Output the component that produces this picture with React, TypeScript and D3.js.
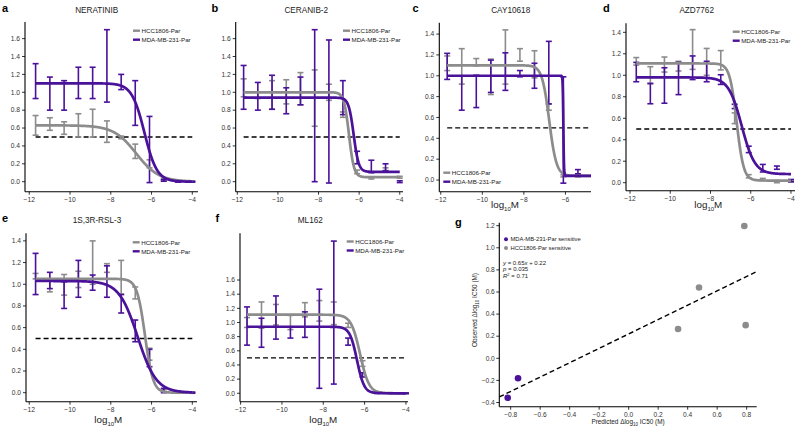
import React from "react";
import * as d3 from "d3";

// log10 molar doses (1:5 dilution series)
const doses = [-11.69, -10.99, -10.29, -9.59, -8.89, -8.19, -7.49, -6.8, -6.1, -5.4, -4.7, -4.0];
const series = ["HCC1806-Par", "MDA-MB-231-Par"];

// a: NERATINIB
const neraHccMean = [0.63, 0.645, 0.6, 0.63, 0.655, 0.56, 0.495, 0.34, 0.2, 0.02, 0.01, 0.0];
const neraHccSd = [0.11, 0.07, 0.07, 0.13, 0.155, 0.12, 0.015, 0.08, 0.045, 0.01, 0.005, 0.005];
const neraMdaMean = [1.125, 0.985, 0.965, 1.105, 1.105, 1.295, 1.115, 0.88, 0.36, 0.015, 0.0, 0.0];
const neraMdaSd = [0.195, 0.185, 0.165, 0.175, 0.175, 0.405, 0.085, 0.25, 0.37, 0.01, 0.005, 0.005];
// fit: top, bottom, logIC50, hill
const neraHccFit = [0.63, 0.0, -6.75, 0.78];
const neraMdaFit = [1.1, 0.0, -6.35, 1.4];

// b: CERANIB-2
const ceraHccMean = [1.05, 0.965, 0.97, 1.005, 1.04, 0.935, 1.0, 0.75, 0.11, 0.04, 0.14, 0.05];
const ceraHccSd = [0.1, 0.035, 0.16, 0.135, 0.18, 0.315, 0.09, 0.03, 0.02, 0.01, 0.015, 0.01];
const ceraMdaMean = [1.055, 0.955, 1.0, 0.905, 1.015, 0.85, 0.785, 0.94, 0.27, 0.17, 0.16, 0.0];
const ceraMdaSd = [0.245, 0.155, 0.19, 0.145, 0.155, 0.85, 0.8, 0.19, 0.07, 0.07, 0.04, 0.01];
const ceraHccFit = [1.0, 0.05, -6.5, 3.5];
const ceraMdaFit = [0.94, 0.11, -6.27, 3.5];

// c: CAY10618 (no data above -5.4)
const cayHccMean = [1.12, 1.09, 1.13, 0.99, 1.18, 1.2, 1.11, 0.7, 0.04, 0.04];
const cayHccSd = [0.07, 0.17, 0.035, 0.17, 0.26, 0.06, 0.13, 0.03, 0.01, 0.01];
const cayMdaMean = [1.09, 0.835, 0.85, 0.995, 1.04, 1.02, 1.0, 1.03, 0.48, 0.08];
const cayMdaSd = [0.125, 0.165, 0.155, 0.155, 0.18, 0.03, 0.12, 0.3, 0.51, 0.02];
const cayHccFit = [1.1, 0.04, -6.78, 2.5];
const cayMdaFit = [1.0, 0.04, -6.1, 30];

// d: AZD7762
const azdHccMean = [1.13, 1.0, 1.1, 1.085, 1.24, 1.125, 1.14, 0.6, 0.06, 0.03, 0.01, 0.01];
const azdHccSd = [0.035, 0.08, 0.07, 0.045, 0.185, 0.125, 0.09, 0.05, 0.015, 0.01, 0.01, 0.005];
const azdMdaMean = [1.03, 0.83, 0.905, 0.97, 1.07, 1.035, 0.96, 0.71, 0.31, 0.135, 0.14, 0.02];
const azdMdaSd = [0.09, 0.095, 0.165, 0.15, 0.11, 0.095, 0.045, 0.02, 0.03, 0.035, 0.015, 0.01];
const azdHccFit = [1.11, 0.02, -6.7, 2.5];
const azdMdaFit = [0.98, 0.08, -6.45, 1.33];

// e: 1S,3R-RSL-3
const rslHccMean = [1.075, 0.99, 0.995, 1.045, 1.2, 1.15, 1.065, 0.92, 0.355, 0.02, 0.01, 0.0];
const rslHccSd = [0.025, 0.06, 0.095, 0.075, 0.2, 0.04, 0.155, 0.055, 0.055, 0.01, 0.005, 0.005];
const rslMdaMean = [1.095, 1.035, 0.9, 1.05, 1.015, 1.025, 0.82, 0.57, 0.32, 0.02, 0.0, 0.0];
const rslMdaSd = [0.19, 0.075, 0.123, 0.17, 0.07, 0.145, 0.085, 0.1, 0.08, 0.02, 0.005, 0.005];
const rslHccFit = [1.05, 0.0, -6.32, 2.2];
const rslMdaFit = [1.03, 0.0, -6.68, 0.95];

// f: ML162
const mlHccMean = [1.0, 1.105, 1.11, 1.0, 1.18, 1.165, 1.13, 0.96, 0.42, 0.01, 0.0, 0.0];
const mlHccSd = [0.07, 0.185, 0.145, 0.1, 0.1, 0.145, 0.16, 0.03, 0.04, 0.01, 0.005, 0.005];
const mlMdaMean = [0.95, 0.855, 1.07, 0.86, 0.97, 0.77, 1.14, 0.73, 0.26, 0.01, 0.0, 0.0];
const mlMdaSd = [0.27, 0.205, 0.305, 0.08, 0.18, 0.7, 1.01, 0.05, 0.03, 0.01, 0.005, 0.005];
const mlHccFit = [1.11, 0.0, -6.22, 2.0];
const mlMdaFit = [0.94, 0.0, -6.37, 2.5];

// g: predicted vs observed delta log10 IC50
const gPredicted = [-0.82, -0.75, 0.335, 0.477, 0.784, 0.793];
const gObserved = [-0.357, -0.18, 0.265, 0.64, 1.197, 0.3];
const gGroup = [1, 1, 0, 0, 0, 0];
const gLegend = ["MDA-MB-231-Par sensitive", "HCC1806-Par sensitive"];
const regSlope = 0.65;
const regIntercept = 0.22;

const GRAY = "#8c8c8c";
const PURPLE = "#4a1199";
const FONT = "'Liberation Sans', Arial, Helvetica, sans-serif";

const logistic = (fit: number[]) => (x: number) =>
  fit[1] + (fit[0] - fit[1]) / (1 + Math.pow(10, (x - fit[2]) * fit[3]));

const panels = [
  {
    letter: "a", title: "NERATINIB", hcc: [neraHccMean, neraHccSd, neraHccFit], mda: [neraMdaMean, neraMdaSd, neraMdaFit],
    x0: 25, x1: 198, xd: [-12.21, -3.72], y0: 191.7, y1: 22, yd: [-0.112, 1.786],
    yTicks: [0, 0.2, 0.4, 0.6, 0.8, 1.0, 1.2, 1.4, 1.6], xTicks: [-12, -10, -8, -6, -4],
    titleX: 96.7, titleY: 13, letterX: 2, letterY: 12, legend: [133, 30.7], xlab: null as null | number[],
  },
  {
    letter: "b", title: "CERANIB-2", hcc: [ceraHccMean, ceraHccSd, ceraHccFit], mda: [ceraMdaMean, ceraMdaSd, ceraMdaFit],
    x0: 235.7, x1: 403, xd: [-12.08, -3.84], y0: 191.7, y1: 22, yd: [-0.112, 1.786],
    yTicks: [0, 0.2, 0.4, 0.6, 0.8, 1.0, 1.2, 1.4, 1.6], xTicks: [-12, -10, -8, -6, -4],
    titleX: 306.3, titleY: 13, letterX: 211.5, letterY: 12, legend: [343, 30.7], xlab: null,
  },
  {
    letter: "c", title: "CAY10618", hcc: [cayHccMean, cayHccSd, cayHccFit], mda: [cayMdaMean, cayMdaSd, cayMdaFit],
    x0: 439.3, x1: 591, xd: [-12.07, -4.77], y0: 191.7, y1: 22.7, yd: [-0.112, 1.509],
    yTicks: [0, 0.2, 0.4, 0.6, 0.8, 1.0, 1.2, 1.4], xTicks: [-12, -10, -8, -6],
    titleX: 510.7, titleY: 13, letterX: 412.5, letterY: 12, legend: [443.3, 172.7], xlab: [505, 208],
  },
  {
    letter: "d", title: "AZD7762", hcc: [azdHccMean, azdHccSd, azdHccFit], mda: [azdMdaMean, azdMdaSd, azdMdaFit],
    x0: 626, x1: 795, xd: [-12.2, -3.8], y0: 190.7, y1: 23.3, yd: [-0.0745, 1.484],
    yTicks: [0, 0.2, 0.4, 0.6, 0.8, 1.0, 1.2, 1.4], xTicks: [-12, -10, -8, -6, -4],
    titleX: 696.7, titleY: 13, letterX: 603, letterY: 12, legend: [732.7, 31.7], xlab: [708.3, 208],
  },
  {
    letter: "e", title: "1S,3R-RSL-3", hcc: [rslHccMean, rslHccSd, rslHccFit], mda: [rslMdaMean, rslMdaSd, rslMdaFit],
    x0: 26, x1: 197, xd: [-12.16, -3.77], y0: 401.7, y1: 233.3, yd: [-0.083, 1.47],
    yTicks: [0, 0.2, 0.4, 0.6, 0.8, 1.0, 1.2, 1.4], xTicks: [-12, -10, -8, -6, -4],
    titleX: 97, titleY: 223, letterX: 2, letterY: 222, legend: [132.7, 242.3], xlab: [108.3, 423],
  },
  {
    letter: "f", title: "ML162", hcc: [mlHccMean, mlHccSd, mlHccFit], mda: [mlMdaMean, mlMdaSd, mlMdaFit],
    x0: 240, x1: 408, xd: [-12.03, -3.9], y0: 401.7, y1: 233.3, yd: [-0.119, 2.26],
    yTicks: [0, 0.2, 0.4, 0.6, 0.8, 1.0, 1.2, 1.4, 1.6], xTicks: [-12, -10, -8, -6, -4],
    titleX: 310.3, titleY: 223, letterX: 215.5, letterY: 222, legend: [346.7, 241.5], xlab: [323.3, 423],
  },
];

const fmt1 = d3.format(".1f");
const fmtNeg = (v: number) => (v < 0 ? "\u2212" + fmt1(-v) : fmt1(v));
const fmtInt = (v: number) => (v < 0 ? "\u2212" + String(-v) : String(v));

const DosePanel = ({ p }: { p: (typeof panels)[number] }) => {
  const x = d3.scaleLinear().domain(p.xd).range([p.x0, p.x1]);
  const y = d3.scaleLinear().domain(p.yd).range([p.y0, p.y1]);
  const xEnd = Math.min(-4, p.xd[1]);
  const sets = [
    { data: p.hcc, color: GRAY },
    { data: p.mda, color: PURPLE },
  ];
  // sample points along the fitted curve
  const xs = d3.range(0, 601).map((i) => doses[0] + ((xEnd - doses[0]) * i) / 600);
  return (
    <g>
      <text x={p.letterX} y={p.letterY} fontSize={11} fontWeight="bold">{p.letter}</text>
      <text x={p.titleX} y={p.titleY} fontSize={8.2} textAnchor="middle" fill="#222">{p.title}</text>
      {/* axes */}
      <line x1={p.x0} x2={p.x0} y1={p.y1} y2={p.y0} stroke="#000" strokeWidth={1.1} />
      <line x1={p.x0} x2={p.x1} y1={p.y0} y2={p.y0} stroke="#000" strokeWidth={1.1} />
      {p.yTicks.map((t) => (
        <g key={"y" + t}>
          <line x1={p.x0 - 3} x2={p.x0} y1={y(t)} y2={y(t)} stroke="#000" strokeWidth={0.8} />
          <text x={p.x0 - 5} y={y(t) + 2.3} fontSize={6.7} textAnchor="end" fill="#333">{fmtNeg(t)}</text>
        </g>
      ))}
      {p.xTicks.map((t) => (
        <g key={"x" + t}>
          <line x1={x(t)} x2={x(t)} y1={p.y0} y2={p.y0 + 3} stroke="#000" strokeWidth={0.8} />
          <text x={x(t)} y={p.y0 + 9.8} fontSize={6.7} textAnchor="middle" fill="#333">{fmtInt(t)}</text>
        </g>
      ))}
      {/* 50% line */}
      <line x1={x(doses[0])} x2={x(xEnd)} y1={y(0.5)} y2={y(0.5)} stroke="#000" strokeWidth={1.4} strokeDasharray="5,3" />
      {/* error bars */}
      {sets.map((s, si) =>
        (s.data[0] as number[]).map((m, i) => {
          const sd = (s.data[1] as number[])[i];
          const cx = x(doses[i]);
          return (
            <g key={si + "-" + i} stroke={s.color} strokeWidth={1.6}>
              <line x1={cx} x2={cx} y1={y(m - sd)} y2={y(m + sd)} />
              <line x1={cx - 3} x2={cx + 3} y1={y(m - sd)} y2={y(m - sd)} />
              <line x1={cx - 3} x2={cx + 3} y1={y(m + sd)} y2={y(m + sd)} />
            </g>
          );
        })
      )}
      {/* fitted curves */}
      {sets.map((s, si) => {
        const f = logistic(s.data[2] as number[]);
        const path = d3.line<number>().x((d) => x(d)).y((d) => y(f(d)))(xs) || "";
        return <path key={"c" + si} d={path} fill="none" stroke={s.color} strokeWidth={2.7} />;
      })}
      {/* legend */}
      {series.map((name, i) => (
        <g key={name}>
          <line x1={p.legend[0]} x2={p.legend[0] + 7} y1={p.legend[1] + i * 9} y2={p.legend[1] + i * 9}
            stroke={i === 0 ? GRAY : PURPLE} strokeWidth={2.4} />
          <text x={p.legend[0] + 8.5} y={p.legend[1] + i * 9 + 2.2} fontSize={6.2} fill="#222">{name}</text>
        </g>
      ))}
      {p.xlab && (
        <text x={p.xlab[0]} y={p.xlab[1]} fontSize={9.8} textAnchor="middle" fill="#222">
          log<tspan fontSize={6} dy={2.5}>10</tspan><tspan dy={-2.5}>M</tspan>
        </text>
      )}
    </g>
  );
};

const ScatterPanel = () => {
  const x0 = 499.3, x1 = 756.7, yb = 406.7, yt = 222.7;
  const x = d3.scaleLinear().domain([-0.877, 0.868]).range([x0, x1]);
  const y = d3.scaleLinear().domain([-0.438, 1.227]).range([yb, yt]);
  const xTicks = [-0.8, -0.6, -0.4, -0.2, 0, 0.2, 0.4, 0.6, 0.8];
  const yTicks = [-0.4, -0.2, 0, 0.2, 0.4, 0.6, 0.8, 1.0, 1.2];
  const xd = x.domain();
  return (
    <g>
      <text x={455} y={226} fontSize={11} fontWeight="bold">g</text>
      <line x1={x0} x2={x0} y1={yt} y2={yb} stroke="#000" strokeWidth={1.1} />
      <line x1={x0} x2={x1} y1={yb} y2={yb} stroke="#000" strokeWidth={1.1} />
      {yTicks.map((t) => (
        <g key={"gy" + t}>
          <line x1={x0 - 3} x2={x0} y1={y(t)} y2={y(t)} stroke="#000" strokeWidth={0.8} />
          <text x={x0 - 4.5} y={y(t) + 2.3} fontSize={6.6} textAnchor="end" fill="#333">{fmtNeg(t)}</text>
        </g>
      ))}
      {xTicks.map((t) => (
        <g key={"gx" + t}>
          <line x1={x(t)} x2={x(t)} y1={yb} y2={yb + 3} stroke="#000" strokeWidth={0.8} />
          <text x={x(t)} y={yb + 9.8} fontSize={6.6} textAnchor="middle" fill="#333">{fmtNeg(t)}</text>
        </g>
      ))}
      <line x1={x(xd[0])} x2={x(xd[1])} y1={y(regSlope * xd[0] + regIntercept)} y2={y(regSlope * xd[1] + regIntercept)}
        stroke="#000" strokeWidth={1.4} strokeDasharray="5,3" />
      {gPredicted.map((v, i) => (
        <circle key={"pt" + i} cx={x(v)} cy={y(gObserved[i])} r={3.3} fill={gGroup[i] === 1 ? PURPLE : GRAY} />
      ))}
      {gLegend.map((name, i) => (
        <g key={name}>
          <circle cx={506} cy={239.3 + i * 8.7} r={2} fill={i === 0 ? PURPLE : GRAY} />
          <text x={510.5} y={241.4 + i * 8.7} fontSize={5.8} fill="#222">{name}</text>
        </g>
      ))}
      <g fontSize={6} fill="#222">
        <text x={503} y={264.5}><tspan fontStyle="italic">y</tspan> = 0.65<tspan fontStyle="italic">x</tspan> + 0.22</text>
        <text x={503} y={271.3}><tspan fontStyle="italic">p</tspan> = 0.035</text>
        <text x={503} y={278}><tspan fontStyle="italic">R</tspan><tspan fontSize={4} dy={-2}>2</tspan><tspan dy={2}> = 0.71</tspan></text>
      </g>
      <text x={628} y={424} fontSize={6.4} textAnchor="middle" fill="#222">
        Predicted Δlog<tspan fontSize={4.5} dy={1.5}>10</tspan><tspan dy={-1.5}> IC50 (M)</tspan>
      </text>
      <text transform="translate(477,310) rotate(-90)" fontSize={6.4} textAnchor="middle" fill="#222">
        Observed Δlog<tspan fontSize={4.5} dy={1.5}>10</tspan><tspan dy={-1.5}> IC50 (M)</tspan>
      </text>
    </g>
  );
};

const App = () => (
  <svg width={800} height={429} style={{ position: "absolute", left: 0, top: 0, background: "#fff" }}
    fontFamily={FONT}>
    <rect width={800} height={429} fill="#fff" />
    {panels.map((p) => (
      <DosePanel key={p.letter} p={p} />
    ))}
    <ScatterPanel />
  </svg>
);

export default App;
